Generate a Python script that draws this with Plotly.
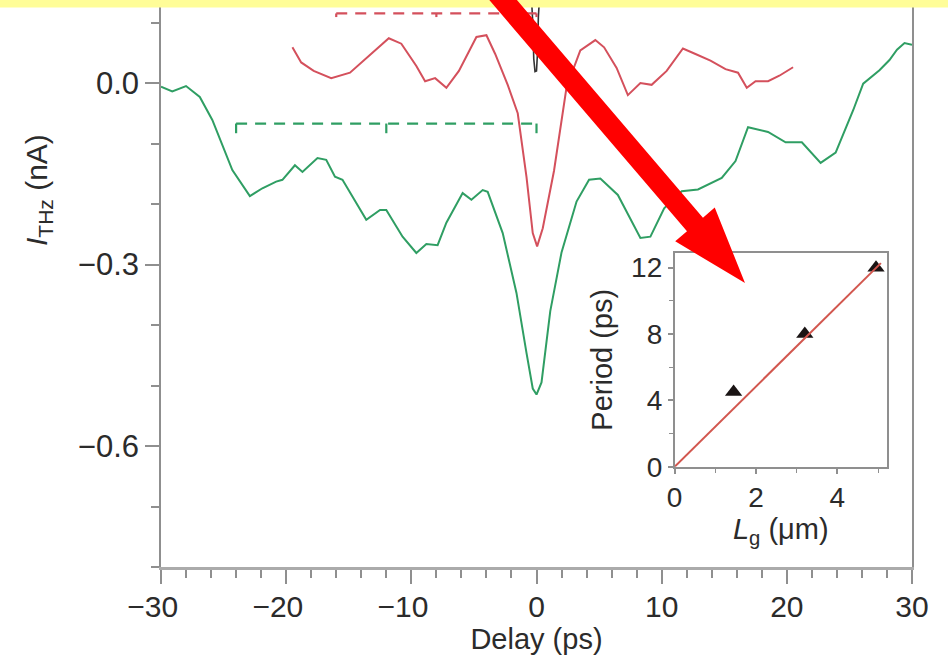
import math
import plotly.graph_objects as go

# ---------------- data ----------------
# green trace (Delay in ps, I_THz in nA)
green_delay = [-30, -29.1, -28.0, -26.9, -25.9, -24.3, -22.9, -21.9, -20.8, -20.3,
               -19.3, -18.7, -17.5, -16.8, -16.1, -15.5, -13.6, -12.5, -12.0, -10.7,
               -9.6, -8.8, -7.9, -7.2, -5.9, -5.2, -4.3, -3.9, -2.7, -1.6,
               -0.8, -0.3, 0.0, 0.4, 1.1, 2.0, 3.2, 4.2, 5.1, 6.5,
               8.3, 9.1, 10.2, 11.6, 12.9, 14.8, 15.9, 16.9, 18.5, 19.9,
               21.2, 22.7, 23.9, 25.3, 26.1, 27.4, 28.2, 28.8, 29.4, 30.0]
green_current = [-0.006, -0.014, -0.005, -0.023, -0.061, -0.144, -0.187, -0.174, -0.163, -0.160,
                 -0.136, -0.147, -0.124, -0.127, -0.155, -0.160, -0.226, -0.210, -0.210, -0.254,
                 -0.281, -0.266, -0.268, -0.231, -0.182, -0.193, -0.177, -0.180, -0.248, -0.347,
                 -0.446, -0.505, -0.515, -0.495, -0.377, -0.280, -0.196, -0.160, -0.158, -0.185,
                 -0.256, -0.254, -0.207, -0.179, -0.176, -0.157, -0.129, -0.073, -0.081, -0.098,
                 -0.098, -0.132, -0.115, -0.045, -0.001, 0.021, 0.038, 0.055, 0.066, 0.063]

# red trace
red_delay = [-19.5, -18.8, -17.8, -16.4, -14.9, -13.5, -11.8, -10.8, -9.6, -8.9,
             -8.1, -7.2, -6.2, -4.8, -4.0, -3.3, -2.3, -1.5, -0.8, -0.3,
             0.05, 0.5, 1.0, 1.4, 2.4, 3.5, 4.7, 5.4, 6.4, 7.3,
             8.3, 9.2, 10.4, 11.7, 12.7, 13.9, 15.1, 16.1, 16.8, 17.5,
             18.5, 19.4, 20.5]
red_current = [0.059, 0.034, 0.020, 0.008, 0.017, 0.042, 0.074, 0.065, 0.028, 0.003,
               0.008, -0.008, 0.020, 0.076, 0.079, 0.048, -0.003, -0.050, -0.155, -0.248,
               -0.270, -0.240, -0.190, -0.145, -0.007, 0.054, 0.071, 0.059, 0.025, -0.020,
               0.000, -0.003, 0.020, 0.057, 0.048, 0.037, 0.023, 0.017, -0.008, 0.003,
               0.003, 0.012, 0.026]

# black trace (only its dip near zero delay lies inside the window)
black_delay = [-0.45, -0.3, -0.22, -0.12, 0.0, 0.08, 0.15, 0.3]
black_current = [0.16, 0.10, 0.04, 0.019, 0.020, 0.05, 0.11, 0.16]

# period brackets: tick positions (ps) and bracket level (nA)
green_bracket_ticks = [-24, -12, 0]
green_bracket_level = -0.067
red_bracket_ticks = [-16, -8, 0]
red_bracket_level = 0.115

# axis ticks
delay_ticks = [-30, -20, -10, 0, 10, 20, 30]

# inset: oscillation period vs gate length
gate_length = [1.45, 3.2, 4.95]
period = [4.5, 8.0, 12.0]
fit_gate_length = [0.0, 5.07]
fit_period = [0.0, 12.27]

# ---------------- styling ----------------
W, H = 948, 662
PL, PR, PT, PB = 161, 912, 0, 567          # main plotting area in pixels
GREEN = "#2f9e63"
RED = "#d4505c"
TEXT = "#2b2b2b"
AXIS = "#8f8f8f"
FONT = "Liberation Sans, Arial, Helvetica, sans-serif"


def px(x):
    return (x - PL) / (PR - PL)


def py(y):
    return (PB - y) / (PB - PT)


def delay_label(v):
    # digits centred on the tick, minus sign hanging to the left
    return f"\u2212{abs(v)}\u00a0\u00a0" if v < 0 else str(v)


fig = go.Figure()

# main traces
fig.add_trace(go.Scatter(x=green_delay, y=green_current, mode="lines",
                         line=dict(color=GREEN, width=2), hoverinfo="skip"))
fig.add_trace(go.Scatter(x=red_delay, y=red_current, mode="lines",
                         line=dict(color=RED, width=2), hoverinfo="skip"))
fig.add_trace(go.Scatter(x=black_delay, y=black_current, mode="lines",
                         line=dict(color="#333333", width=1.6), hoverinfo="skip"))


def bracket(ticks, level, color, drop):
    fig.add_trace(go.Scatter(x=[ticks[0], ticks[-1]], y=[level, level], mode="lines",
                             line=dict(color=color, width=2.2, dash="11px,8px"),
                             hoverinfo="skip"))
    tx, ty = [], []
    for t in ticks:
        tx += [t, t, None]
        ty += [level, level - drop, None]
    fig.add_trace(go.Scatter(x=tx, y=ty, mode="lines",
                             line=dict(color=color, width=2.2), hoverinfo="skip"))


bracket(green_bracket_ticks, green_bracket_level, GREEN, 0.016)
bracket(red_bracket_ticks, red_bracket_level, RED, 0.006)

# inset traces
fig.add_trace(go.Scatter(x=gate_length, y=period, mode="markers", xaxis="x2", yaxis="y2",
                         marker=dict(symbol="triangle-up", size=15, color="#1a1414"),
                         hoverinfo="skip"))
fig.add_trace(go.Scatter(x=fit_gate_length, y=fit_period, mode="lines", xaxis="x2", yaxis="y2",
                         line=dict(color="#d2574f", width=2), hoverinfo="skip"))

tick_common = dict(ticks="outside", tickcolor=AXIS, tickwidth=1.5, showgrid=False,
                   zeroline=False, showline=True)

fig.update_layout(
    width=W, height=H,
    margin=dict(l=PL, r=W - PR, t=PT, b=H - PB),
    paper_bgcolor="white", plot_bgcolor="white",
    showlegend=False,
    font=dict(family=FONT, color=TEXT),
    xaxis=dict(range=[-30, 30], domain=[0, 1], tickmode="array",
               tickvals=delay_ticks, ticktext=[delay_label(v) for v in delay_ticks],
               ticklen=14, linecolor="#ababab", linewidth=3,
               tickfont=dict(size=30, color=TEXT), ticklabelstandoff=-3,
               minor=dict(dtick=2, tick0=0, ticks="outside", ticklen=8,
                          tickcolor=AXIS, tickwidth=1.5, showgrid=False),
               title=dict(text="Delay (ps)", font=dict(size=29, color=TEXT), standoff=2),
               **tick_common),
    yaxis=dict(range=[-0.8, 83 / 605], domain=[0, 1], dtick=0.3, tick0=0,
               tickformat=".1f", ticklen=14, linecolor=AXIS, linewidth=1.5, mirror=True,
               tickfont=dict(size=31, color=TEXT), ticklabelstandoff=0,
               minor=dict(dtick=0.1, tick0=0, ticks="outside", ticklen=8,
                          tickcolor=AXIS, tickwidth=1.5, showgrid=False),
               **tick_common),
    xaxis2=dict(range=[0, 5.22], domain=[px(674.6), px(887)], anchor="y2",
                dtick=2, tick0=0, ticklen=5, linecolor=AXIS, linewidth=1.5, mirror=True,
                tickfont=dict(size=28, color=TEXT),
                minor=dict(dtick=1, tick0=0, ticks="outside", ticklen=4,
                           tickcolor=AXIS, tickwidth=1.2, showgrid=False),
                title=dict(text="<i>L</i><sub>g</sub> (μm)", font=dict(size=29, color=TEXT),
                           standoff=0),
                **tick_common),
    yaxis2=dict(range=[0, 12.9], domain=[py(466.8), py(252.7)], anchor="x2",
                dtick=4, tick0=0, ticklen=5, linecolor=AXIS, linewidth=1.5, mirror=True,
                tickfont=dict(size=28, color=TEXT),
                minor=dict(dtick=2, tick0=0, ticks="outside", ticklen=4,
                           tickcolor=AXIS, tickwidth=1.2, showgrid=False),
                title=dict(text="Period (ps)", font=dict(size=29, color=TEXT), standoff=10),
                **tick_common),
)

# y-axis title of the main panel
fig.add_annotation(xref="paper", yref="paper", x=px(38), y=py(190),
                   text="<i>I</i><sub>THz</sub> (nA)", textangle=-90, showarrow=False,
                   font=dict(size=30, color=TEXT), xanchor="center", yanchor="middle")

# yellow highlight strip across the top
fig.add_shape(type="rect", xref="paper", yref="paper",
              x0=px(-5), x1=px(W + 5), y0=py(7.5), y1=py(-5),
              fillcolor="#fffd98", line=dict(width=0), layer="above")

# red pointer arrow from the top toward the inset
tip = (745.0, 283.0)
dx, dy = 1.0, 1.17
n = math.hypot(dx, dy)
ux, uy = dx / n, dy / n          # direction of the arrow
vx, vy = uy, -ux                 # perpendicular
head_len, head_half, shaft_half = 77.0, 26.0, 10.5
bx, by = tip[0] - head_len * ux, tip[1] - head_len * uy
t_top = (by + 10) / uy
sx, sy = bx - t_top * ux, by - t_top * uy
pts = [
    (sx + shaft_half * vx, sy + shaft_half * vy),
    (bx + shaft_half * vx, by + shaft_half * vy),
    (bx + head_half * vx, by + head_half * vy),
    tip,
    (bx - head_half * vx, by - head_half * vy),
    (bx - shaft_half * vx, by - shaft_half * vy),
    (sx - shaft_half * vx, sy - shaft_half * vy),
]
path = "M " + " L ".join(f"{px(x):.5f},{py(y):.5f}" for x, y in pts) + " Z"
fig.add_shape(type="path", xref="paper", yref="paper", path=path,
              fillcolor="#ff0000", line=dict(width=0), layer="above")

fig.write_html("out.html")
